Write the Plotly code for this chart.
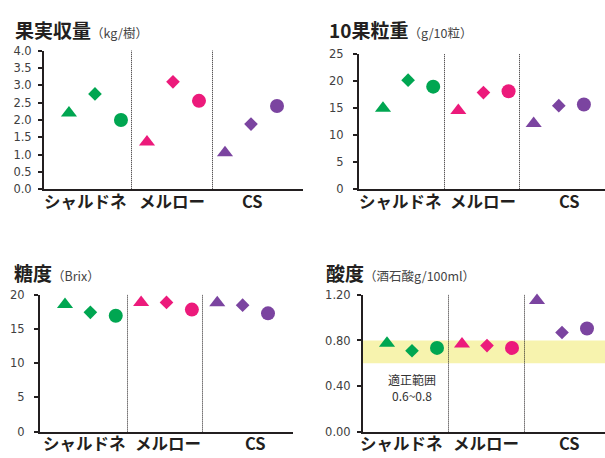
import plotly.graph_objects as go

# Varieties and the three sample markers within each variety
varieties = ["シャルドネ", "メルロー", "CS"]
symbols = ["triangle-up", "diamond", "circle"]
colors = ["#00a651", "#ec1a7b", "#7b44a0"]

# Marker slots along x: three per variety
positions = [1, 2, 3, 4, 5, 6, 7, 8, 9]

# Measured values, ordered シャルドネ(▲◆●), メルロー(▲◆●), CS(▲◆●)
yield_kg = [2.2, 2.75, 2.0, 1.36, 3.1, 2.55, 1.05, 1.88, 2.4]
berry_weight = [14.9, 20.1, 18.9, 14.5, 17.8, 18.05, 12.1, 15.4, 15.6]
brix = [18.6, 17.45, 16.95, 18.9, 18.9, 17.85, 18.85, 18.5, 17.3]
acidity = [0.775, 0.71, 0.735, 0.77, 0.755, 0.735, 1.15, 0.87, 0.905]

# Y-axis ticks
yield_ticks = [0.0, 0.5, 1.0, 1.5, 2.0, 2.5, 3.0, 3.5, 4.0]
weight_ticks = [0, 5, 10, 15, 20, 25]
brix_ticks = [0, 5, 10, 15, 20]
acid_ticks = [0.0, 0.4, 0.8, 1.2]

# Suitable acidity range
acid_low, acid_high = 0.6, 0.8

W, H = 605, 458


def px_x(x):
    return x / W


def px_y(y):
    return 1 - y / H


panels = [
    dict(vals=yield_kg, ticks=yield_ticks, fmt=".1f", yr=[0, 4], xr=[0.04, 10.0],
         xd=(44, 303), yd=(188, 45), div=[131.5, 212.5], so=4),
    dict(vals=berry_weight, ticks=weight_ticks, fmt="d", yr=[0, 25], xr=[0.045, 9.84],
         xd=(359, 605), yd=(188, 48), div=[444.5, 519.5], so=7),
    dict(vals=brix, ticks=brix_ticks, fmt="d", yr=[0, 20], xr=[0.015, 9.985],
         xd=(40, 293), yd=(438, 297), div=[127.5, 202.5], so=7),
    dict(vals=acidity, ticks=acid_ticks, fmt=".2f", yr=[0, 1.2], xr=[0.04, 9.72],
         xd=(363, 605), yd=(438, 297), div=[448.5, 524.5], so=4),
]

fig = go.Figure()
layout = {}
shapes = []

for i, p in enumerate(panels):
    n = "" if i == 0 else str(i + 1)
    xa, ya = "x" + n, "y" + n
    for v in range(3):
        sl = slice(3 * v, 3 * v + 3)
        fig.add_trace(go.Scatter(
            x=positions[sl], y=p["vals"][sl], xaxis=xa, yaxis=ya,
            mode="markers", showlegend=False, cliponaxis=False,
            marker=dict(symbol=symbols, color=colors[v], opacity=1,
                        size=[14, 10.5, 14], line=dict(width=0)),
        ))
    layout["xaxis" + n] = dict(
        domain=[px_x(p["xd"][0]), px_x(p["xd"][1])], range=p["xr"],
        anchor=ya, showgrid=False, zeroline=False, showticklabels=False,
        ticks="", showline=True, linecolor="#231f20", linewidth=2,
        fixedrange=True,
    )
    layout["yaxis" + n] = dict(
        domain=[px_y(p["yd"][0]), px_y(p["yd"][1])], range=p["yr"],
        anchor=xa, showgrid=False, zeroline=False, tickvals=p["ticks"],
        tickformat=p["fmt"], ticks="outside", ticklen=4, tickwidth=1.5,
        tickcolor="#231f20", showline=True, linecolor="#231f20", linewidth=2,
        ticklabelstandoff=p["so"],
        tickfont=dict(family="DejaVu Sans", size=11.5, color="#404040"),
        fixedrange=True,
    )
    # Dotted separators between varieties
    x0px, x1px = p["xd"]
    for d in p["div"]:
        frac = (d - x0px) / (x1px - x0px)
        shapes.append(dict(type="line", xref=xa + " domain", yref=ya + " domain",
                           x0=frac, x1=frac, y0=0, y1=1,
                           line=dict(color="#231f20", width=1, dash="1px,1px")))

# Suitable acidity band
shapes.append(dict(type="rect", xref="x4 domain", yref="y4", x0=0, x1=1,
                   y0=acid_low, y1=acid_high, fillcolor="#f7f3ae",
                   line=dict(width=0), layer="below"))

annotations = []

# Panel titles
titles = [
    ("果実収量", "（kg/樹）", 13, 23),
    ("10果粒重", "（g/10粒）", 327, 23),
    ("糖度", "（Brix）", 12, 274),
    ("酸度", "（酒石酸g/100ml）", 324, 274),
]
for main, unit, x, y in titles:
    annotations.append(dict(
        xref="paper", yref="paper", x=px_x(x), y=px_y(y),
        xanchor="left", yanchor="middle", showarrow=False,
        text=f"<b>{main}</b><span style='font-size:12.5px;font-weight:normal;fill:#444444'>{unit}</span>",
        font=dict(family="Noto Sans CJK JP", size=19, color="#231f20"),
    ))

# Variety labels under each panel
label_pos = [
    ([85, 172, 252], 200),
    ([400, 483, 569], 200),
    ([84, 168, 255], 450),
    ([401, 486, 569], 450),
]
for xs, y in label_pos:
    for name, x in zip(varieties, xs):
        annotations.append(dict(
            xref="paper", yref="paper", x=px_x(x), y=px_y(y),
            xanchor="center", yanchor="middle", showarrow=False,
            text=f"<b>{name}</b>",
            font=dict(family="Noto Sans CJK JP", size=16.5, color="#231f20"),
        ))

# Note for the suitable acidity band
annotations.append(dict(
    xref="paper", yref="paper", x=px_x(412), y=px_y(392),
    xanchor="center", yanchor="middle", showarrow=False,
    text=f"適正範囲<br>{acid_low}~{acid_high}",
    font=dict(family="Noto Sans CJK JP", size=12, color="#333333"),
))

fig.update_layout(
    width=W, height=H, margin=dict(l=0, r=0, t=0, b=0),
    paper_bgcolor="white", plot_bgcolor="white",
    shapes=shapes, annotations=annotations, **layout,
)

fig.write_html("out.html", config={"displayModeBar": False})
